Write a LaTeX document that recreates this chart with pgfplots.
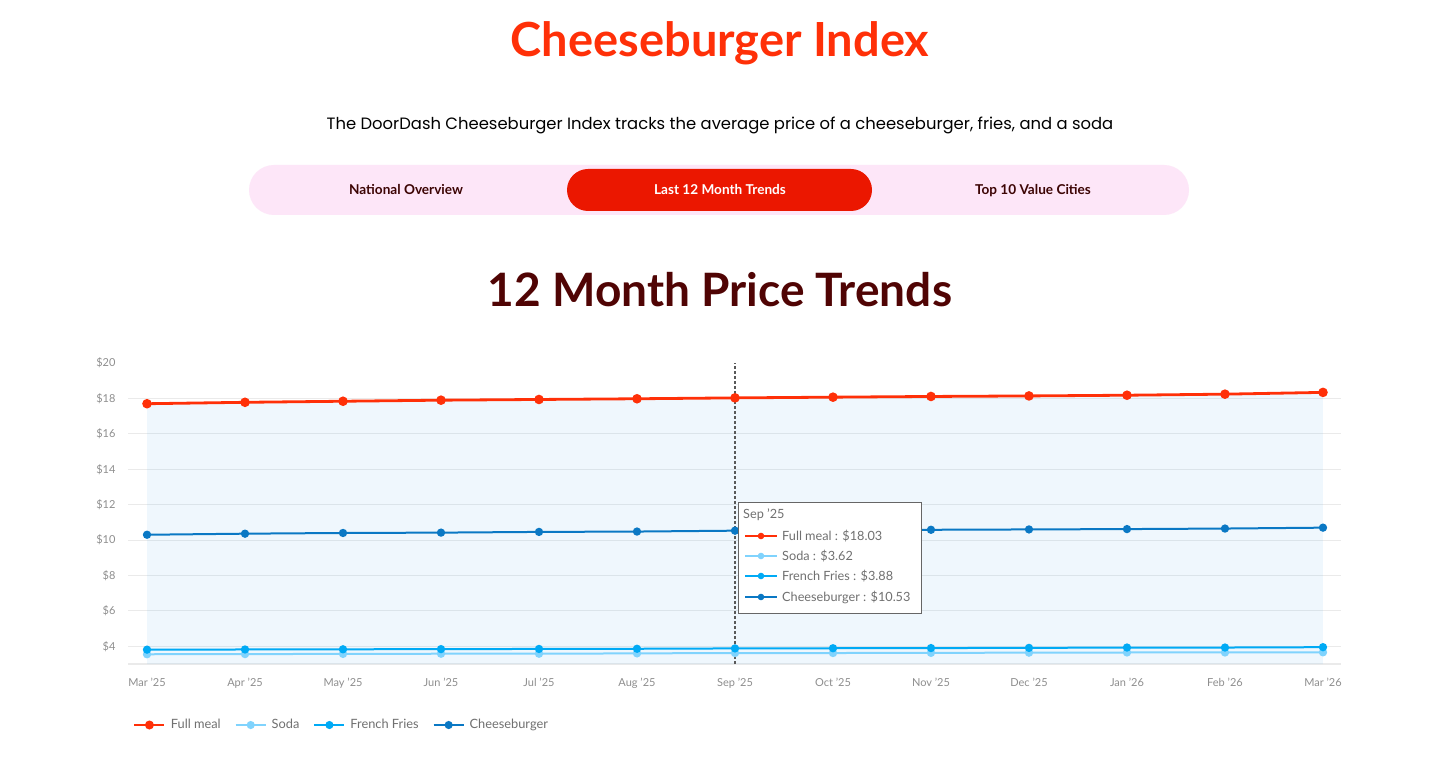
\documentclass[border=0pt]{standalone}
\usepackage{pgfplots}
\pgfplotsset{compat=1.18}
\usepackage{fontspec}
\setmainfont{Lato}
\newfontfamily\poppins{Poppins}
\definecolor{ddred}{HTML}{FF3008}
\definecolor{tabred}{HTML}{EB1700}
\definecolor{maroon}{HTML}{500404}
\definecolor{tabtext}{HTML}{3D0505}
\definecolor{tabpink}{HTML}{FDE6F8}
\definecolor{soda}{HTML}{80D3FD}
\definecolor{fries}{HTML}{00AAF5}
\definecolor{burger}{HTML}{0A78C4}
\definecolor{areac}{HTML}{2E9BEB}
\definecolor{gridc}{HTML}{EAEAEA}
\definecolor{tickc}{HTML}{8E8E8E}
\definecolor{legc}{HTML}{707070}

\pgfplotstableread{
x fullmeal soda fries burger
0  17.70 3.55 3.81 10.30
1  17.78 3.56 3.82 10.36
2  17.84 3.57 3.83 10.40
3  17.90 3.58 3.84 10.42
4  17.94 3.58 3.85 10.46
5  17.98 3.60 3.86 10.48
6  18.03 3.62 3.88 10.53
7  18.07 3.62 3.89 10.56
8  18.11 3.63 3.90 10.58
9  18.14 3.64 3.91 10.60
10 18.18 3.65 3.93 10.62
11 18.24 3.65 3.93 10.65
12 18.34 3.66 3.95 10.70
}\prices

\begin{document}
\begin{tikzpicture}[x=1pt,y=1pt]
\path[use as bounding box, fill=white] (0,0) rectangle (1440,766);

% headings
\node[anchor=base, text=ddred, font=\fontsize{47}{52}\selectfont\bfseries, inner sep=0] at (720,709.3) {Cheeseburger Index};
\node[anchor=base, text=black, font=\poppins\fontsize{16.4}{19}\selectfont, inner sep=0] at (720,636) {The DoorDash Cheeseburger Index tracks the average price of a cheeseburger, fries, and a soda};

% tabs
\fill[tabpink, rounded corners=25pt] (249,601) rectangle (1189,551);
\fill[tabred, rounded corners=21pt] (567,597) rectangle (872,555);
\node[anchor=base, text=tabtext, font=\fontsize{13.6}{15}\selectfont\bfseries, inner sep=0] at (406,571.3) {National Overview};
\node[anchor=base, text=white, font=\fontsize{13.6}{15}\selectfont\bfseries, inner sep=0] at (720,571.3) {Last 12 Month Trends};
\node[anchor=base, text=tabtext, font=\fontsize{13.6}{15}\selectfont\bfseries, inner sep=0] at (1033,571.3) {Top 10 Value Cities};

\node[anchor=base, text=maroon, font=\fontsize{46}{52}\selectfont\bfseries, inner sep=0] at (720,459.3) {12 Month Price Trends};

\begin{axis}[
  at={(128pt,102pt)}, anchor=south west,
  scale only axis, width=1213pt, height=301pt,
  xmin=-0.194, xmax=12.184, ymin=3, ymax=20,
  axis lines*=left,
  y axis line style={draw=none},
  x axis line style={draw=gridc, line width=1.2pt},
  major tick length=0,
  ytick={4,6,...,18}, extra y ticks={20}, extra y tick style={grid=none},
  ymajorgrids, grid style={draw=gridc, line width=1pt},
  /pgf/number format/assume math mode=true,
  yticklabel={\$\pgfmathprintnumber{\tick}},
  yticklabel style={font=\fontsize{11}{13}\selectfont, text=tickc, xshift=-9pt},
  xtick={0,...,12},
  xticklabels={Mar '25,Apr '25,May '25,Jun '25,Jul '25,Aug '25,Sep '25,Oct '25,Nov '25,Dec '25,Jan '26,Feb '26,Mar '26},
  xticklabel style={font=\fontsize{11}{13}\selectfont, text=tickc, yshift=-11pt},
  legend columns=4,
  legend style={at={(0.004,-0.2027)}, anchor=west, draw=none, fill=none, inner sep=0pt,
    font=\fontsize{12.8}{14}\selectfont, text=legc,
    /tikz/every even column/.append style={column sep=9pt},
    nodes={inner xsep=5pt}},
  legend image code/.code={\draw[mark repeat=2, mark phase=2, mark size=3pt] plot coordinates {(0pt,0pt) (15pt,0pt) (30pt,0pt)};},
  every axis plot/.append style={mark=*, mark options={solid}},
]
\addplot[draw=none, fill=areac, fill opacity=0.075, mark=none, forget plot] table[x=x, y=fullmeal] {\prices} \closedcycle;
\addplot[color=ddred, line width=2.8pt, mark size=3.3pt] table[x=x, y=fullmeal] {\prices};
\addlegendentry{Full meal}
\addplot[color=soda, line width=2pt, mark size=3.1pt] table[x=x, y=soda] {\prices};
\addlegendentry{Soda}
\addplot[color=fries, line width=2pt, mark size=3.1pt] table[x=x, y=fries] {\prices};
\addlegendentry{French Fries}
\addplot[color=burger, line width=2pt, mark size=3.1pt] table[x=x, y=burger] {\prices};
\addlegendentry{Cheeseburger}
\draw[color=black!65, line width=1.4pt, dash pattern=on 3pt off 2pt] (axis cs:6,3) -- (axis cs:6,20);
\end{axis}

% tooltip
\draw[fill=white, draw=black!60, line width=0.8pt] (738,264) rectangle (921,153);
\node[anchor=base west, text=legc, font=\fontsize{12.7}{14}\selectfont, inner sep=0] at (743,247) {Sep '25};
\draw[ddred, line width=2.6pt] (745,230) -- (777,230); \fill[ddred] (761,230) circle (3.3);
\node[anchor=west, text=legc, font=\fontsize{12.7}{14}\selectfont, inner sep=0] at (782,230) {Full meal : \$18.03};
\draw[soda, line width=2pt] (745,210) -- (777,210); \fill[soda] (761,210) circle (3.3);
\node[anchor=west, text=legc, font=\fontsize{12.7}{14}\selectfont, inner sep=0] at (782,210) {Soda : \$3.62};
\draw[fries, line width=2pt] (745,190) -- (777,190); \fill[fries] (761,190) circle (3.3);
\node[anchor=west, text=legc, font=\fontsize{12.7}{14}\selectfont, inner sep=0] at (782,190) {French Fries : \$3.88};
\draw[burger, line width=2pt] (745,169) -- (777,169); \fill[burger] (761,169) circle (3.3);
\node[anchor=west, text=legc, font=\fontsize{12.7}{14}\selectfont, inner sep=0] at (782,169) {Cheeseburger : \$10.53};
\end{tikzpicture}
\end{document}
